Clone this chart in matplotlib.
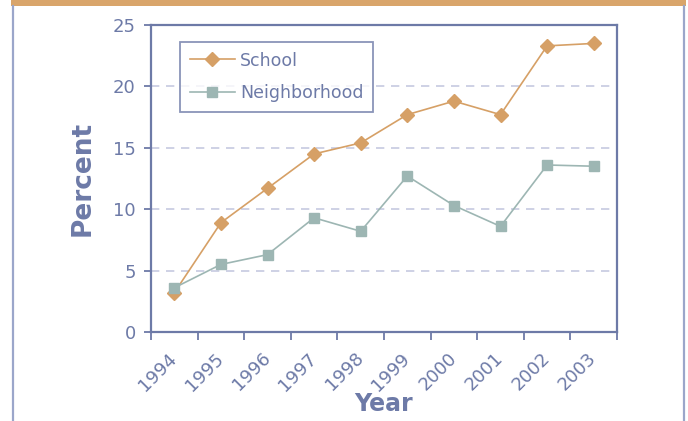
import matplotlib
matplotlib.use("Agg")
import matplotlib.pyplot as plt
from matplotlib.patches import Rectangle
from matplotlib.lines import Line2D

years = ["1994", "1995", "1996", "1997", "1998", "1999", "2000", "2001", "2002", "2003"]
school = [3.2, 8.9, 11.7, 14.5, 15.4, 17.7, 18.8, 17.7, 23.3, 23.5]
neighborhood = [3.6, 5.5, 6.3, 9.3, 8.2, 12.7, 10.3, 8.6, 13.6, 13.5]
y_ticks = [0, 5, 10, 15, 20, 25]

AXC = "#6d7aa7"
ORANGE, TEAL = "#d6a066", "#9db6b3"
GRID = "#c6cae0"

plt.rcParams["font.family"] = ["DejaVu Sans"]

fig = plt.figure(figsize=(6.88, 4.21), dpi=100)
fig.patch.set_facecolor("white")

# page frame: orange title band and side rules
fig.add_artist(Rectangle((11 / 688, 1 - 6 / 421), 675 / 688, 6 / 421, transform=fig.transFigure,
                         facecolor="#d9a56b", edgecolor="none"))
for xp in (12.5, 684):
    fig.add_artist(Line2D([xp / 688, xp / 688], [0, 1 - 6 / 421], transform=fig.transFigure,
                          color="#9ba6ca", lw=1.6))

ax = fig.add_axes([151 / 688, 1 - 332 / 421, 466 / 688, 307 / 421])
x = list(range(len(years)))
ax.plot(x, school, color=ORANGE, lw=1.2, marker="D", ms=7, mec=ORANGE, label="School", zorder=3)
ax.plot(x, neighborhood, color=TEAL, lw=1.2, marker="s", ms=7, mec=TEAL, label="Neighborhood", zorder=3)

ax.set_xlim(-0.5, len(years) - 0.5)
ax.set_ylim(0, 25)
ax.set_yticks(y_ticks)
ax.set_yticklabels([str(v) for v in y_ticks], fontsize=13, color=AXC)
for v in y_ticks[1:-1]:
    ax.axhline(v, color=GRID, lw=1.2, ls=(0, (5, 4)), zorder=1)

ax.set_xticks([i - 0.5 for i in range(len(years) + 1)])
ax.set_xticklabels([])
ax.set_xticks(x, minor=True)
ax.set_xticklabels(years, minor=True, rotation=45, ha="right", va="center",
                   rotation_mode="anchor", fontsize=13, color=AXC)
ax.tick_params(axis="x", which="major", length=6, width=1.3, color=AXC, direction="out")
ax.tick_params(axis="x", which="minor", length=0, pad=17)
ax.tick_params(axis="y", length=5, width=1.3, color=AXC, pad=6)

for s in ax.spines.values():
    s.set_color(AXC)
    s.set_linewidth(1.6)

ax.set_ylabel("Percent", fontsize=19, fontweight="bold", color=AXC, labelpad=12)
ax.set_xlabel("Year", fontsize=17, fontweight="bold", color=AXC, labelpad=-2)

leg = ax.legend(loc="upper left", bbox_to_anchor=(29 / 466, 1 - 17 / 307), fontsize=12.5,
                frameon=True, fancybox=False, borderpad=0.55, handlelength=2.6,
                labelspacing=0.85, handletextpad=0.3, borderaxespad=0)
leg.get_frame().set_edgecolor(AXC)
leg.get_frame().set_linewidth(1.3)
for t in leg.get_texts():
    t.set_color(AXC)

fig.savefig("out.png", dpi=100)
